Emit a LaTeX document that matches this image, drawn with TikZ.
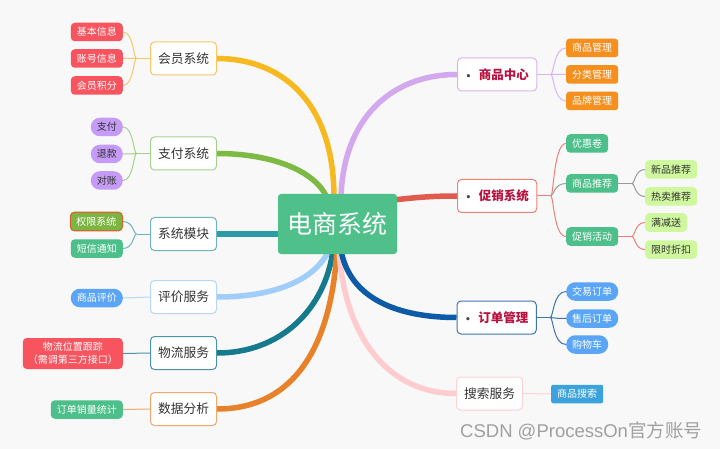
\documentclass[tikz,border=0pt]{standalone}
\usepackage{fontspec}
\setmainfont{Noto Sans CJK SC}
\newfontfamily\dejavu{DejaVu Sans}
\newfontfamily\wmlat{Liberation Sans}
\usetikzlibrary{calc}
\pgfdeclarelayer{bgl}
\pgfdeclarelayer{edges}
\pgfsetlayers{bgl,edges,main}
\definecolor{bgc}{HTML}{F8F8F8}
\definecolor{txt}{HTML}{333333}
\definecolor{crim}{HTML}{B8123F}
\definecolor{bul}{HTML}{444444}
\definecolor{wmc}{HTML}{A0A0A0}
% main branch colours
\definecolor{cyel}{HTML}{F8B920}
\definecolor{cgrn}{HTML}{7CBA44}
\definecolor{ctea}{HTML}{2C9BA6}
\definecolor{clbl}{HTML}{A0CDFA}
\definecolor{cdtl}{HTML}{157A8C}
\definecolor{corg}{HTML}{E8822A}
\definecolor{cpur}{HTML}{D4A8EE}
\definecolor{cred}{HTML}{E25A4E}
\definecolor{cdbl}{HTML}{0D5BA6}
\definecolor{cpnk}{HTML}{FECBCF}
% border / thin colours
\definecolor{byel}{HTML}{F5C766}
\definecolor{bgrn}{HTML}{A8D08D}
\definecolor{btea}{HTML}{6CB5BE}
\definecolor{blbl}{HTML}{B5D8FA}
\definecolor{bdtl}{HTML}{4D93A5}
\definecolor{borg}{HTML}{F3A96B}
\definecolor{bpur}{HTML}{D8B5EE}
\definecolor{bred}{HTML}{EA8177}
\definecolor{bdbl}{HTML}{3E74B2}
\definecolor{bpnk}{HTML}{FCD2D5}
\definecolor{bgry}{HTML}{9A9A9A}
% leaf fills
\definecolor{lred}{HTML}{F7545F}
\definecolor{lpur}{HTML}{C59BF7}
\definecolor{lgrn}{HTML}{4CBF8A}
\definecolor{lolv}{HTML}{7DB543}
\definecolor{lolb}{HTML}{D2692B}
\definecolor{lblu}{HTML}{5AA5F5}
\definecolor{lorg}{HTML}{F58F1E}
\definecolor{llgr}{HTML}{CFF79E}
\definecolor{lsky}{HTML}{3BA2DB}
\definecolor{ctr}{HTML}{50C08A}
\tikzset{
  lone/.style={draw=#1, fill=white, rounded corners=4pt, line width=1pt,
    minimum height=33pt, inner xsep=7.5pt, inner ysep=0pt,
    font=\fontsize{12.75}{14}\selectfont, text=txt},
  loneb/.style={lone=#1, font=\fontsize{12.5}{14}\selectfont\bfseries, text=crim, inner xsep=8pt},
  leaf/.style={fill=#1, rounded corners=4pt, minimum height=18.5pt, inner xsep=6pt,
    inner ysep=0pt, font=\fontsize{10}{12}\selectfont, text=white},
  pill/.style={leaf=#1, rounded corners=9pt},
  mainln/.style={line width=5.5pt, draw=#1},
  thinln/.style={line width=1pt, draw=#1},
  forkl/.style={to path={.. controls ($(\tikztostart)+(#1,0)$) and ($(\tikztostart |- \tikztotarget)+(#1,0)$) .. (\tikztotarget)}},
}
\newcommand{\bu}{{\dejavu\fontsize{9}{9}\selectfont\color{bul}•}\hspace{7.5pt}}
\begin{document}
\begin{tikzpicture}[x=1pt,y=-1pt]
\useasboundingbox (0,0) rectangle (720,449);
\begin{pgfonlayer}{bgl}
\fill[bgc] (0,0) rectangle (720,449);
\end{pgfonlayer}

% centre
\node[fill=ctr, rounded corners=3pt, minimum width=119pt, minimum height=60pt,
  text=white, font=\fontsize{25}{28}\selectfont] (ds) at (337.5,224) {电商系统};

% level 1 left
\node[lone=byel] (hy) at (183.5,58.5) {会员系统};
\node[lone=bgrn] (zf) at (183.5,153.5) {支付系统};
\node[lone=btea] (xt) at (183.5,234) {系统模块};
\node[lone=blbl] (pj) at (183.5,297) {评价服务};
\node[lone=bdtl] (wl) at (183.5,353) {物流服务};
\node[lone=borg] (sj) at (183.5,409) {数据分析};
% level 1 right
\node[loneb=bpur, anchor=west] (sp) at (457,74.5) {\bu 商品中心\hspace{3pt}};
\node[loneb=bred, anchor=west] (cx) at (457,196) {\bu 促销系统\hspace{3pt}};
\node[loneb=bdbl, anchor=west] (dd) at (456.5,317.5) {\bu 订单管理\hspace{3pt}};
\node[lone=bpnk, anchor=west] (ss) at (456,393.5) {搜索服务};

% leaves left
\node[leaf=lred, anchor=east] (jb) at (123,32) {基本信息};
\node[leaf=lred, anchor=east] (zh) at (123,58.5) {账号信息};
\node[leaf=lred, anchor=east] (jf) at (123,85.5) {会员积分};
\node[pill=lpur, text=txt, anchor=east] (zfa) at (123,127) {支付};
\node[pill=lpur, text=txt, anchor=east] (tk) at (123,154) {退款};
\node[pill=lpur, text=txt, anchor=east] (dz) at (123,180.5) {对账};
\node[leaf=lolv, draw=lolb, line width=1.2pt, anchor=east] (qx) at (123,221.5) {权限系统};
\node[leaf=lgrn, anchor=east] (dx) at (123,248.5) {短信通知};
\node[pill=lblu, anchor=east] (sppj) at (123,298) {商品评价};
\node[leaf=lred, anchor=east, align=center, font=\fontsize{10}{13}\selectfont,
  minimum height=31pt, inner xsep=5pt] (wlgz) at (123,353.5) {物流位置跟踪\\（需调第三方接口）};
\node[leaf=lgrn, anchor=east] (ddtj) at (123,409.5) {订单销量统计};

% leaves right
\node[leaf=lorg, anchor=west, rounded corners=3pt] (spgl) at (566,48) {商品管理};
\node[leaf=lorg, anchor=west, rounded corners=3pt] (flgl) at (566,74.5) {分类管理};
\node[leaf=lorg, anchor=west, rounded corners=3pt] (ppgl) at (566,101) {品牌管理};
\node[leaf=lgrn, anchor=west] (yhj) at (566,143.5) {优惠卷};
\node[leaf=lgrn, anchor=west] (sptj) at (566,183.5) {商品推荐};
\node[leaf=lgrn, anchor=west] (cxhd) at (566,236.5) {促销活动};
\node[leaf=llgr, text=txt, anchor=west] (xptj) at (645,169.5) {新品推荐};
\node[leaf=llgr, text=txt, anchor=west] (rmtj) at (645,196.5) {热卖推荐};
\node[leaf=llgr, text=txt, anchor=west] (mjs) at (645,222.5) {满减送};
\node[leaf=llgr, text=txt, anchor=west] (xszk) at (645,249.5) {限时折扣};
\node[pill=lblu, anchor=west] (jydd) at (566,291.5) {交易订单};
\node[pill=lblu, anchor=west] (shdd) at (566,318.5) {售后订单};
\node[pill=lblu, anchor=west] (gwc) at (566,344.5) {购物车};
\node[leaf=lsky, anchor=west, rounded corners=2pt] (spss) at (551,394) {商品搜索};

% watermark
\node[anchor=west, text=wmc, font=\fontsize{18.5}{20}\selectfont, inner sep=0pt] (wm) at (460,431)
  {{\wmlat CSDN @ProcessOn}官方账号};

% centre anchor points
\coordinate (cYel) at ($(ds.north)+(-3.5,4)$);
\coordinate (cGrn) at ($(ds.north)+(-10.5,4)$);
\coordinate (cPur) at ($(ds.north)+(3.5,4)$);
\coordinate (cRed) at ($(ds.east)+(-4,-24)$);
\coordinate (cTea) at ($(xt.east -| ds.west)+(4,0)$);
\coordinate (cLbl) at ($(ds.south)+(-8.5,-4)$);
\coordinate (cDtl) at ($(ds.south)+(-4.5,-4)$);
\coordinate (cOrg) at ($(ds.south)+(-0.5,-4)$);
\coordinate (cDbl) at ($(ds.south)+(3.5,-4)$);
\coordinate (cPnk) at ($(ds.south)+(1.5,-4)$);

\begin{pgfonlayer}{edges}
% main branches
\draw[mainln=cyel] (hy.east) .. controls (280,58.5) and (334,100) .. (cYel);
\draw[mainln=cgrn] (zf.east) .. controls (270,153.5) and (315,170) .. (cGrn);
\draw[mainln=ctea] (xt.east) -- (cTea);
\draw[mainln=clbl] (pj.east) .. controls (275,297) and (315,280) .. (cLbl);
\draw[mainln=cdtl] (wl.east) .. controls (280,353) and (325,310) .. (cDtl);
\draw[mainln=corg] (sj.east) .. controls (285,409) and (330,360) .. (cOrg);
\draw[mainln=cpnk] (ss.west) .. controls (390,393.5) and (345,340) .. (cPnk);
\draw[mainln=cdbl] (dd.west) .. controls (400,317.5) and (350,300) .. (cDbl);
\draw[mainln=cred] (cx.west) .. controls (435,196) and (420,197) .. (cRed);
\draw[mainln=cpur] (sp.west) .. controls (390,74.5) and (343,120) .. (cPur);

% left forks
\draw[thinln=byel] (hy.west) -- ++(-13.5,0) coordinate (hyP);
\draw[thinln=byel] (hyP) to[forkl=-3] (jb.east) (hyP) to[forkl=-3] (zh.east) (hyP) to[forkl=-3] (jf.east);
\draw[thinln=bgrn] (zf.west) -- ++(-13.5,0) coordinate (zfP);
\draw[thinln=bgrn] (zfP) to[forkl=-3] (zfa.east) (zfP) to[forkl=-3] (tk.east) (zfP) to[forkl=-3] (dz.east);
\draw[thinln=btea] (xt.west) -- ++(-13.5,0) coordinate (xtP);
\draw[thinln=btea] (xtP) to[forkl=-3] (qx.east) (xtP) to[forkl=-3] (dx.east);
\draw[thinln=blbl] (pj.west) -- (sppj.east);
\draw[thinln=bdtl] (wl.west) -- (wlgz.east);
\draw[thinln=borg] (sj.west) -- (ddtj.east);

% right forks
\draw[thinln=bpur] (sp.east) -- ++(13.5,0) coordinate (spP);
\draw[thinln=bpur] (spP) to[forkl=3] (spgl.west) (spP) to[forkl=3] (flgl.west) (spP) to[forkl=3] (ppgl.west);
\draw[thinln=bred] (cx.east) -- ++(13.5,0) coordinate (cxP);
\draw[thinln=bred] (cxP) to[forkl=3] (yhj.west) (cxP) to[forkl=3] (cxhd.west);
\draw[thinln=bgry] (cxP) to[forkl=3] (sptj.west);
\draw[thinln=bgry] (sptj.east) -- ++(13.5,0) coordinate (stP);
\draw[thinln=bgry] (stP) to[forkl=3] (xptj.west) (stP) to[forkl=3] (rmtj.west);
\draw[thinln=bred] (cxhd.east) -- ++(13.5,0) coordinate (chP);
\draw[thinln=bred] (chP) to[forkl=3] (mjs.west) (chP) to[forkl=3] (xszk.west);
\draw[thinln=bdbl] (dd.east) -- ++(13.5,0) coordinate (ddP);
\draw[thinln=bdbl] (ddP) to[forkl=3] (jydd.west) (ddP) to[forkl=3] (shdd.west) (ddP) to[forkl=3] (gwc.west);
\draw[thinln=bpnk] (ss.east) -- (spss.west);
\end{pgfonlayer}
\end{tikzpicture}
\end{document}
